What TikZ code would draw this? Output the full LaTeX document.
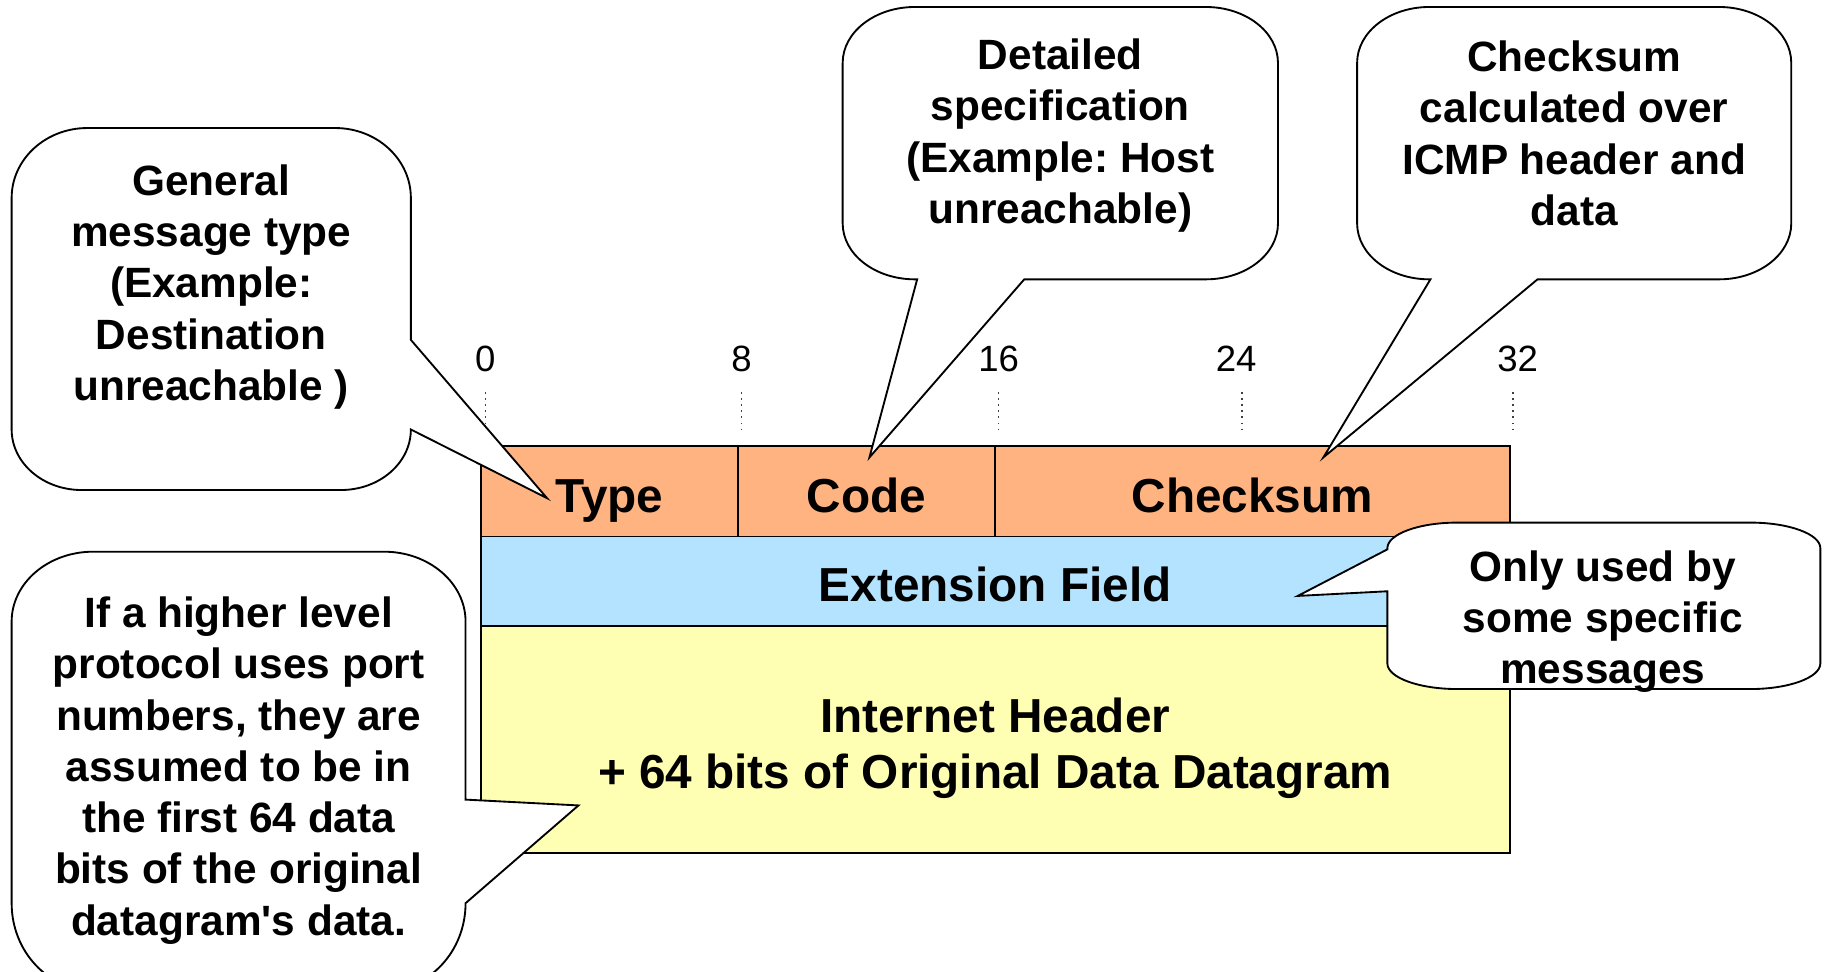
\documentclass[tikz,border=0pt]{standalone}
\usepackage{fontspec}
\setmainfont{Liberation Sans}[Ligatures=TeXOff]
\frenchspacing
\definecolor{cOrange}{HTML}{FFB380}
\definecolor{cBlue}{HTML}{B3E3FF}
\definecolor{cYellow}{HTML}{FFFFB3}
\tikzset{
  cellbox/.style={draw=black, line width=0.8pt},
  tbltxt/.style={font=\fontsize{20.5}{24}\selectfont\bfseries, align=center, inner sep=0pt},
  calltxt/.style={font=\fontsize{18.2}{22}\selectfont\bfseries, align=center, inner sep=0pt},
  numtxt/.style={font=\fontsize{15.7}{18}\selectfont, inner sep=0pt},
  ticklinestyle/.style={dotted, line width=0.6pt, black!75},
  calloutbox/.style={draw=black, fill=white, line width=0.8pt, line join=miter}
}
\begin{document}
\begin{tikzpicture}[x=0.5pt,y=-0.5pt]
\useasboundingbox (0,0) rectangle (1568,835);
\clip (0,0) rectangle (1568,835);
\fill[white] (0,0) rectangle (1568,835);

% table
\draw[cellbox, fill=cOrange] (413,383) rectangle (634,461);
\draw[cellbox, fill=cOrange] (634,383) rectangle (855,461);
\draw[cellbox, fill=cOrange] (855,383) rectangle (1297,461);
\draw[cellbox, fill=cBlue] (413,461) rectangle (1297,538);
\draw[cellbox, fill=cYellow] (413,538) rectangle (1297,733);

\node[tbltxt, anchor=base] (type) at (523.5,440) {Type};
\node[tbltxt, anchor=base] (code) at (744.5,440) {Code};
\node[tbltxt, anchor=base] (csum) at (1076,440) {Checksum};
\node[tbltxt] (ext) at (855,502) {Extension Field};
\node[tbltxt] (data) at (855,643) {Internet Header\\+ 64 bits of Original Data Datagram};

% bit numbers and ticks
\node[numtxt] (n0) at (417,308) {0};
\node[numtxt] (n8) at (637,308) {8};
\node[numtxt] (n16) at (858,308) {16};
\node[numtxt] (n24) at (1062,308) {24};
\node[numtxt] (n32) at (1304,308) {32};
\draw[ticklinestyle] (417,337) -- (417,370);
\draw[ticklinestyle] (637,337) -- (637,370);
\draw[ticklinestyle] (858,337) -- (858,370);
\draw[ticklinestyle] (1067,337) -- (1067,370);
\draw[ticklinestyle] (1300,337) -- (1300,370);

% callout 1
\draw[calloutbox] (10,170) .. controls (10,136.9) and (39.1,110) .. (75,110)
  -- (288,110) .. controls (323.9,110) and (353,136.9) .. (353,170)
  -- (353,292) -- (470,428) -- (353,369)
  .. controls (353,397.7) and (326.1,421) .. (293,421)
  -- (70,421) .. controls (36.9,421) and (10,397.7) .. (10,369) -- cycle;
\node[calltxt] (c1) at (181.5,246.5) {General\\message type\\(Example:\\Destination\\unreachable )};

% callout 2
\draw[calloutbox] (724,54) .. controls (724,27.5) and (751.8,6) .. (786,6)
  -- (1036,6) .. controls (1070.2,6) and (1098,27.5) .. (1098,54)
  -- (1098,192) .. controls (1098,218.5) and (1070.2,240) .. (1036,240)
  -- (880,240) -- (747,393) -- (788,240)
  -- (786,240) .. controls (751.8,240) and (724,218.5) .. (724,192) -- cycle;
\node[calltxt] (c2) at (911,116.5) {Detailed\\specification\\(Example: Host\\unreachable)};

% callout 3
\draw[calloutbox] (1166,54) .. controls (1166,27.5) and (1193.8,6) .. (1228,6)
  -- (1477,6) .. controls (1511.2,6) and (1539,27.5) .. (1539,54)
  -- (1539,192) .. controls (1539,218.5) and (1511.2,240) .. (1477,240)
  -- (1321,240) -- (1137,393) -- (1229,240)
  -- (1228,240) .. controls (1193.8,240) and (1166,218.5) .. (1166,192) -- cycle;
\node[calltxt] (c3) at (1352.5,114.5) {Checksum\\calculated over\\ICMP header and\\data};

% callout 4
\draw[calloutbox] (1192,471) .. controls (1192,458.9) and (1218.9,449) .. (1252,449)
  -- (1504,449) .. controls (1537.1,449) and (1564,458.9) .. (1564,471)
  -- (1564,570) .. controls (1564,582.1) and (1537.1,592) .. (1504,592)
  -- (1252,592) .. controls (1218.9,592) and (1192,582.1) .. (1192,570)
  -- (1192,508) -- (1115,512) -- (1192,472) -- cycle;
\node[calltxt] (c4) at (1377,534) {Only used by\\some specific\\messages};

% callout 5
\draw[calloutbox] (10,534) .. controls (10,500.9) and (41.4,474) .. (80,474)
  -- (330,474) .. controls (368.6,474) and (400,500.9) .. (400,534)
  -- (400,687) -- (497,692) -- (400,776)
  .. controls (400,817.4) and (368.6,851) .. (330,851)
  -- (80,851) .. controls (41.4,851) and (10,817.4) .. (10,776) -- cycle;
\node[calltxt] (c5) at (205,662) {If a higher level\\protocol uses port\\numbers, they are\\assumed to be in\\the first 64 data\\bits of the original\\datagram's data.};
\end{tikzpicture}
\end{document}
